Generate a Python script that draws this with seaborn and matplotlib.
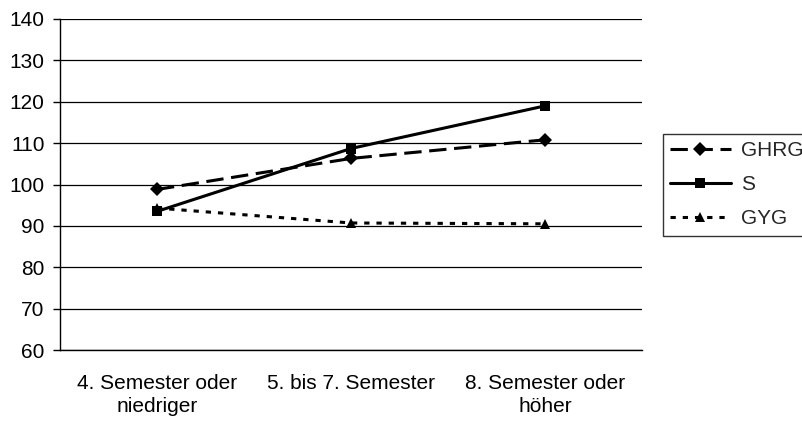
import matplotlib
matplotlib.use('Agg')

import matplotlib.pyplot as plt
import seaborn as sns
import pandas as pd

# Werte
categories = ['4. Semester oder niedriger', '5. bis 7. Semester', '8. Semester oder höher']
tick_labels = ['4. Semester oder\nniedriger', '5. bis 7. Semester', '8. Semester oder\nhöher']
ghrg = [98.8, 106.3, 110.8]
s_vals = [93.5, 108.7, 119.0]
gyg = [94.3, 90.7, 90.5]
series_names = ['GHRG', 'S', 'GYG']

df = pd.DataFrame({
    'Semester': categories * 3,
    'Wert': ghrg + s_vals + gyg,
    'Gruppe': [n for n in series_names for _ in categories],
})

sns.set_style('white')
plt.rcParams['font.family'] = ['Liberation Sans', 'DejaVu Sans']
plt.rcParams['lines.scale_dashes'] = False
FS = 15

fig = plt.figure(figsize=(8.03, 4.21), dpi=100)
ax = fig.add_axes([60 / 803, 71 / 421, 582 / 803, 331 / 421])

sns.lineplot(data=df, x='Semester', y='Wert', hue='Gruppe', style='Gruppe',
             palette={'GHRG': 'black', 'S': 'black', 'GYG': 'black'},
             markers={'GHRG': 'D', 'S': 's', 'GYG': '^'},
             dashes={'GHRG': (12.5, 5.5), 'S': '', 'GYG': (3.8, 5)},
             linewidth=2.2, markersize=7, markeredgewidth=0,
             sort=False, ax=ax, legend=False)

ax.set_ylim(60, 140)
ax.set_yticks(range(60, 141, 10))
ax.set_xlim(-0.5, 2.5)
ax.set_xticks([0, 1, 2])
ax.set_xticklabels(tick_labels, linespacing=1.3)
ax.set_xticks([-0.5, 0.5, 1.5, 2.5], minor=True)
ax.tick_params(axis='x', which='major', length=0, pad=17, labelsize=FS, colors='black')
ax.tick_params(axis='x', which='minor', length=5, width=1, color='black', direction='out')
ax.tick_params(axis='y', length=5, width=1, color='black', direction='out', left=True,
               labelsize=FS, labelcolor='black', pad=6)
ax.set_xlabel('')
ax.set_ylabel('')

ax.grid(True, axis='y', color='black', linewidth=0.9)
ax.set_axisbelow(True)
for side in ['top', 'right']:
    ax.spines[side].set_visible(False)
for side in ['left', 'bottom']:
    ax.spines[side].set_color('black')
    ax.spines[side].set_linewidth(1)

handles = [h for h in ax.get_lines()[:3]]
leg = fig.legend(handles, series_names, loc='upper left',
                 bbox_to_anchor=(663 / 803, 1 - 134 / 421), fontsize=FS,
                 frameon=True, fancybox=False, edgecolor='black',
                 handlelength=2.9, handletextpad=0.5, labelspacing=0.72,
                 borderpad=0.35, borderaxespad=0)
leg.get_frame().set_linewidth(1)

plt.savefig('out.png', dpi=100)
plt.close()
